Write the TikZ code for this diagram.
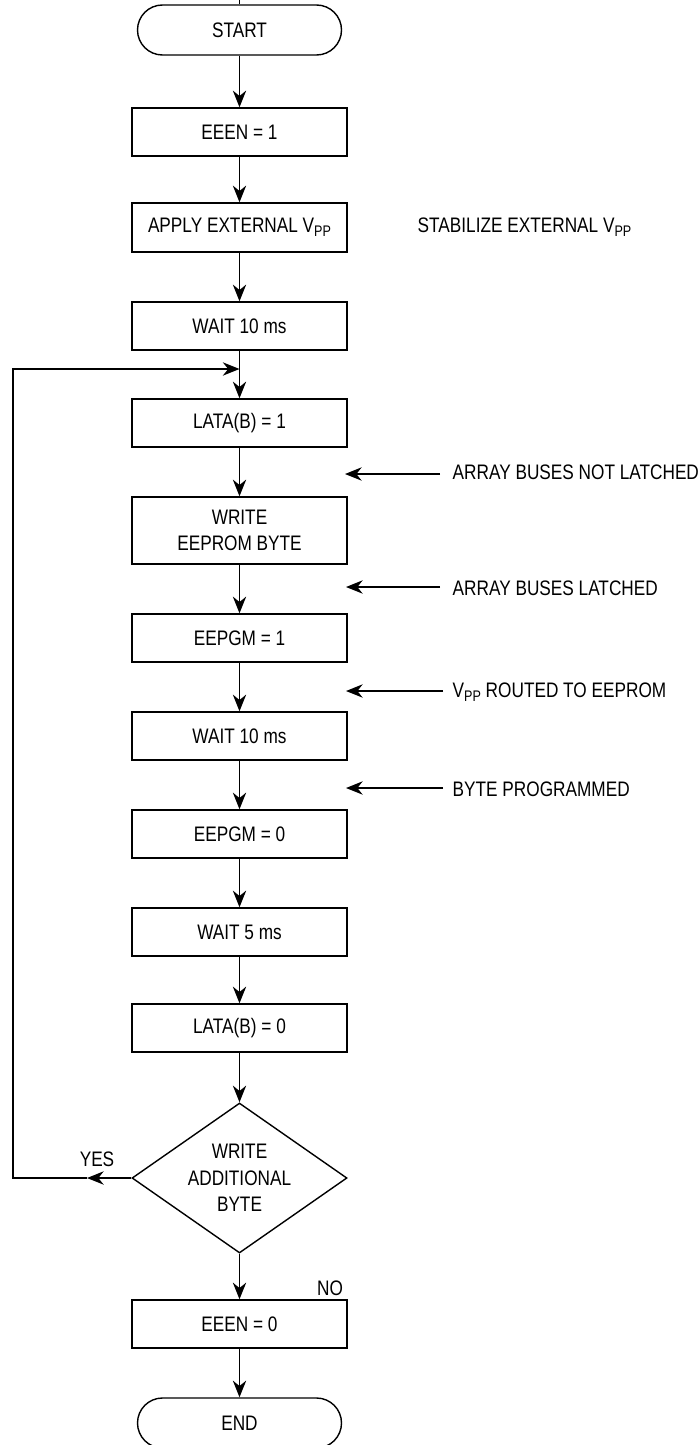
\documentclass[tikz,border=0pt]{standalone}
\usepackage{fontspec}
\setmainfont{Liberation Sans}[FakeStretch=0.82]
\usetikzlibrary{shapes.geometric,arrows.meta}
\newcommand\vsub{V\raisebox{-3.2pt}{\fontsize{11.5}{11.5}\selectfont PP}}
\begin{document}
\begin{tikzpicture}[x=0.75pt,y=-0.75pt, line width=1.05pt,
  every node/.style={font=\fontsize{15.75}{20}\selectfont},
  box/.style={draw, minimum width=161.25pt, minimum height=36pt, inner sep=0pt, align=center},
  term/.style={draw, rounded corners=18.75pt, minimum width=153pt, minimum height=37.5pt, inner sep=0pt},
  dec/.style={draw, shape=diamond, aspect=1.433, minimum width=161.25pt, minimum height=112.5pt, inner sep=0pt, align=center},
  note/.style={anchor=base west, inner sep=0pt},
  arr/.style={-{Stealth[length=12.5pt,width=10pt,inset=4pt]}}]
\useasboundingbox (0,0) rectangle (699,1445);

\node[term] (start) at (239.5,30) {START};
\node[box] (een1) at (239.5,132) {EEEN = 1};
\node[box, minimum height=36.75pt] (apply) at (239.5,227.5) {APPLY EXTERNAL \vsub};
\node[box] (wait1) at (239.5,326) {WAIT 10 ms};
\node[box] (lata1) at (239.5,423) {LATA(B) = 1};
\node[box, minimum height=50.25pt] (write) at (239.5,530.5) {WRITE\\EEPROM BYTE};
\node[box] (pgm1) at (239.5,638) {EEPGM = 1};
\node[box] (wait2) at (239.5,736) {WAIT 10 ms};
\node[box] (pgm0) at (239.5,834) {EEPGM = 0};
\node[box] (wait3) at (239.5,932) {WAIT 5 ms};
\node[box] (lata0) at (239.5,1028) {LATA(B) = 0};
\node[dec] (dia) at (239.5,1178) {WRITE\\ADDITIONAL\\BYTE};
\node[box] (een0) at (239.5,1324) {EEEN = 0};
\node[term] (fin) at (239.5,1423) {END};

% top stub
\coordinate (stub) at (239.5,0);
\draw (start.north) -- (stub);

% main flow
\draw[arr] (start) -- (een1);
\draw[arr] (een1) -- (apply);
\draw[arr] (apply) -- (wait1);
\draw[arr] (wait1) -- (lata1);
\draw[arr] (lata1) -- (write);
\draw[arr] (write) -- (pgm1);
\draw[arr] (pgm1) -- (wait2);
\draw[arr] (wait2) -- (pgm0);
\draw[arr] (pgm0) -- (wait3);
\draw[arr] (wait3) -- (lata0);
\draw[arr] (lata0) -- (dia);
\draw[arr] (dia) -- (een0);
\draw[arr] (een0) -- (fin);

% loop back
\coordinate (yesmid) at (87,1178);
\coordinate (loopbl) at (13,1178);
\coordinate (join) at (239.5,369);
\draw[arr] (dia.west) -- (yesmid);
\draw[arr] (yesmid) -- (loopbl) |- (join);
\node[anchor=base, inner sep=0pt] (yes) at (97,1166) {YES};
\node[anchor=base, inner sep=0pt] (no) at (330,1295) {NO};

% annotations
\node[note] (stab) at (417,232) {STABILIZE EXTERNAL \vsub};

\node[note] (t1) at (452,479) {ARRAY BUSES NOT LATCHED};
\coordinate (a1s) at (440,474); \coordinate (a1e) at (345,474);
\draw[arr] (a1s) -- (a1e);

\node[note] (t2) at (452,595) {ARRAY BUSES LATCHED};
\coordinate (a2s) at (440,587); \coordinate (a2e) at (346,587);
\draw[arr] (a2s) -- (a2e);

\node[note] (t3) at (452,697) {\vsub{} ROUTED TO EEPROM};
\coordinate (a3s) at (443,691); \coordinate (a3e) at (346,691);
\draw[arr] (a3s) -- (a3e);

\node[note] (t4) at (452,796) {BYTE PROGRAMMED};
\coordinate (a4s) at (443,788); \coordinate (a4e) at (346,788);
\draw[arr] (a4s) -- (a4e);
\end{tikzpicture}
\end{document}
